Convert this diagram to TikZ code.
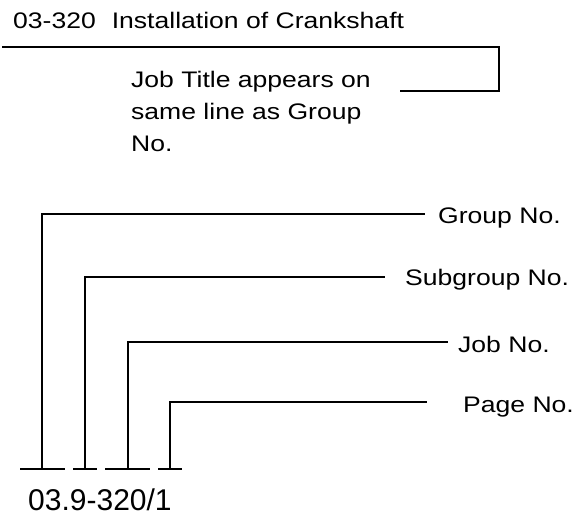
\documentclass[tikz,border=0pt]{standalone}
\usepackage{fontspec}
\setmainfont[FakeStretch=1.18]{Liberation Sans}
\newfontfamily\numfont{Liberation Sans}
\begin{document}
\begin{tikzpicture}[x=1pt,y=-1pt,
  lbl/.style={inner sep=0pt,anchor=base west,font=\fontsize{22.5}{22.5}\selectfont},
  num/.style={inner sep=0pt,anchor=base west,font=\numfont\fontsize{30}{30}\selectfont},
  ln/.style={line width=1.3pt,line join=miter},
  vln/.style={line width=1.5pt,line join=miter},
  tick/.style={line width=1.4pt}]
\useasboundingbox (0,0) rectangle (581,516);
% title
\node[lbl] (title) at (13,29) {03-320\hspace{16pt}Installation of Crankshaft};
\node[lbl] (jt1) at (131,88) {Job Title appears on};
\node[lbl] (jt2) at (131,120) {same line as Group};
\node[lbl] (jt3) at (131,152) {No.};
\coordinate (tl) at (2,47);
\coordinate (tr) at (499,47);
\coordinate (stub) at (400,91);
\draw[ln] (tl) -- (tr) |- (stub);
% labels
\node[lbl] (grp) at (438,223) {Group No.};
\node[lbl] (sub) at (405,285) {Subgroup No.};
\node[lbl] (job) at (458,352) {Job No.};
\node[lbl] (pg) at (463,412) {Page No.};
\coordinate (ge) at (425,214);
\coordinate (se) at (385,277);
\coordinate (je) at (448,342);
\coordinate (pe) at (427,402);
% ticks
\coordinate (tg) at (42,469);
\coordinate (ts) at (85,469);
\coordinate (tj) at (128,469);
\coordinate (tp) at (170,469);
\draw[tick] (20,469) -- (65,469);
\draw[tick] (73,469) -- (97,469);
\draw[tick] (105,469) -- (150,469);
\draw[tick] (158,469) -- (182,469);
\draw[vln] (tg) |- (ge);
\draw[vln] (ts) |- (se);
\draw[vln] (tj) |- (je);
\draw[vln] (tp) |- (pe);
\node[num] (code) at (28,510) {03.9-320/1};
\end{tikzpicture}
\end{document}
